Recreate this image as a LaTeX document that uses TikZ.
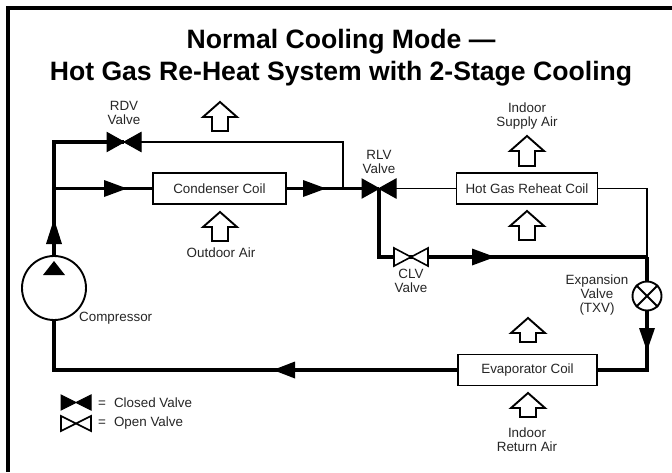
\documentclass[tikz,border=0pt]{standalone}
\usepackage{fontspec}
\setmainfont{Liberation Sans}
\tikzset{
  x=1pt,y=-1pt,
  thinpipe/.style={line width=1.9pt},
  thickpipe/.style={line width=3.6pt},
  coil/.style={draw,line width=1.9pt,fill=white,minimum height=31pt,inner sep=0pt,font=\fontsize{13.4}{14}\selectfont,text=black!85},
  lbl/.style={align=center,inner sep=0pt,font=\fontsize{13.4}{14}\selectfont,text=black!85},
  flowtip/.style={fill=black,draw=none},
  closedv/.style={fill=black,draw=black,line width=1pt,line join=miter},
  openv/.style={fill=white,draw=black,line width=1.6pt,line join=miter},
  airarrow/.style={draw,line width=1.9pt,fill=white,line join=miter},
}
\newcommand{\airup}[3]{% cx, tip y, base y
  \draw[airarrow] (#1,#2) -- (#1+17,#2+15) -- (#1+8,#2+15) -- (#1+8,#3) -- (#1-8,#3) -- (#1-8,#2+15) -- (#1-17,#2+15) -- cycle;}
\newcommand{\valveh}[5]{% style, cx, cy, half-width, half-height
  \draw[#1] (#2-#4,#3-#5) -- (#2+#4,#3+#5) -- (#2+#4,#3-#5) -- (#2-#4,#3+#5) -- cycle;}
\newcommand{\tipright}[3]{\fill[flowtip] (#1,#3-8.5) -- (#2,#3) -- (#1,#3+8.5) -- cycle;}
\begin{document}
\begin{tikzpicture}
\useasboundingbox (0,0) rectangle (672,472);
\fill[white] (0,0) rectangle (672,472);
\draw[line width=4pt] (672,8) -- (6,8) (8,6) -- (8,472);
% title
\node[inner sep=0pt,font=\fontsize{26.6}{32}\selectfont\bfseries,align=center] (title) at (341,58) {Normal Cooling Mode ---\\Hot Gas Re-Heat System with 2-Stage Cooling};
% coils
\node[coil,minimum width=133pt] (cond) at (219.5,188.5) {Condenser Coil};
\node[coil,minimum width=141pt] (reheat) at (527,188.5) {Hot Gas Reheat Coil};
\node[coil,minimum width=139pt] (evap) at (527.5,370) {Evaporator Coil};
% junctions
\coordinate (rdv) at (124,142);
\coordinate (rlv) at (379,188.5);
\coordinate (clv) at (411,257);
\coordinate (jl) at (54,188.5);
\coordinate (jr) at (343,188.5);
\coordinate (jc) at (647,257);
\node[circle,draw,line width=1.9pt,fill=white,minimum size=64pt,inner sep=0pt] (comp) at (54,288) {};
\node[circle,draw,line width=1.9pt,fill=white,minimum size=29pt,inner sep=0pt] (txv) at (647,296) {};
% pipes
\draw[thickpipe] (comp.north) -- (jl);
\draw[thickpipe,line join=miter] (jl) |- (rdv);
\draw[thickpipe] (jl) -- (cond.west);
\draw[thinpipe,line join=miter] (rdv) -| (jr);
\draw[thickpipe] (cond.east) -- (rlv);
\draw[thinpipe] (rlv) -- (reheat.west);
\draw[thinpipe,line join=miter] (reheat.east) -| (jc);
\draw[thickpipe,line join=miter] (rlv) |- (jc);
\draw[thickpipe] (jc) -- (txv.north);
\draw[thickpipe,line join=miter] (txv.south) |- (evap.east);
\draw[thickpipe,line join=miter] (evap.west) -| (comp.south);
\draw[line width=1.9pt] (txv.north west) -- (txv.south east) (txv.north east) -- (txv.south west);
% arrowheads
\tipright{104}{127}{188.5}
\tipright{303}{326}{188.5}
\tipright{472}{495}{257}
\fill[flowtip] (295,361.5) -- (273,370) -- (295,378.5) -- cycle;
\fill[flowtip] (46,244) -- (54,219) -- (62,244) -- cycle;
\fill[flowtip] (639,328) -- (647,351) -- (655,328) -- cycle;
\fill[flowtip] (43,275) -- (54,261) -- (65,275) -- cycle;
% valves
\valveh{closedv}{124}{142}{17}{9.5}
\valveh{closedv}{379}{188.5}{17}{9.5}
\valveh{openv}{411}{257}{17}{9}
\valveh{closedv}{76}{402.5}{15}{7.5}
\valveh{openv}{76}{423.5}{15}{7.5}
% air arrows
\airup{220}{102}{131}
\airup{220}{212}{241}
\airup{527}{136}{166}
\airup{527}{211}{240}
\airup{528}{318}{342}
\airup{528}{393}{417}
% labels
\node[lbl] (l1) at (124,113) {RDV\\Valve};
\node[lbl] (l2) at (379,161.5) {RLV\\Valve};
\node[lbl] (l3) at (411,280.5) {CLV\\Valve};
\node[lbl] (l4) at (221,252.5) {Outdoor Air};
\node[lbl] (l5) at (527,116.5) {Indoor\\Supply Air};
\node[lbl] (l6) at (527,440) {Indoor\\Return Air};
\node[lbl] (l7) at (597,295) {Expansion\\Valve\\(TXV)};
\node[lbl,anchor=west] (l8) at (79,318) {Compressor};
\node[lbl,anchor=west] (l9) at (98,402.5) {=\hspace{8pt}Closed Valve};
\node[lbl,anchor=west] (l10) at (98,423) {=\hspace{8pt}Open Valve};
\end{tikzpicture}
\end{document}
